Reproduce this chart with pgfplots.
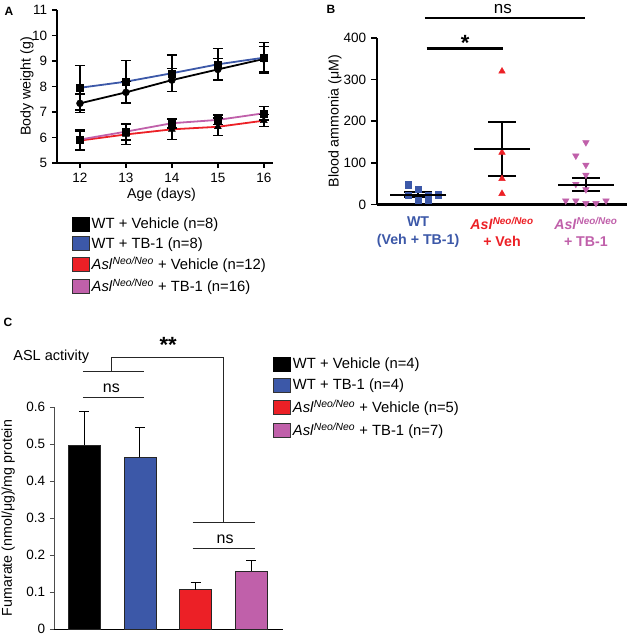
\documentclass[border=0pt]{standalone}
\usepackage{fontspec}
\setmainfont{Liberation Sans}
\usepackage{pgfplots}
\pgfplotsset{compat=1.18}
\definecolor{cblue}{RGB}{60,88,168}
\definecolor{cred}{RGB}{236,32,38}
\definecolor{cpink}{RGB}{192,96,170}
\newcommand{\asl}{\textit{Asl}\textsuperscript{\textit{Neo/Neo}}}
\newcommand{\aslb}{\textbf{\textit{Asl}}\textsuperscript{\textbf{\textit{Neo/Neo}}}}
\begin{document}
\fontsize{14}{16.8}\selectfont
\begin{tikzpicture}[x=1pt,y=1pt]
\useasboundingbox (0,0) rectangle (630,635);
\pgfplotsset{
  legend image code/.code={\draw[line width=0.6pt] (0pt,-7pt) rectangle (17pt,7pt);},
  every axis/.append style={
    /pgf/number format/assume math mode=true,
    ticklabel style={font=\fontsize{13.5}{15}\selectfont},
    label style={font=\fontsize{14.2}{17}\selectfont},
    legend style={draw=none, fill=none, font=\fontsize{14.8}{17.5}\selectfont, inner sep=0pt, row sep=3pt},
    legend cell align=left,
    scale only axis, clip=false, anchor=south west,
    axis x line*=bottom, axis y line*=left,
    tick align=outside,
  },
}
\node[font=\bfseries\fontsize{12}{14}\selectfont] at (9pt,624pt) {A};
\node[font=\bfseries\fontsize{12}{14}\selectfont] at (331pt,626pt) {B};
\node[font=\bfseries\fontsize{12}{14}\selectfont] at (8pt,313pt) {C};

% ---------------- Panel A ----------------
\begin{axis}[
  at={(57pt,472pt)}, width=216pt, height=153pt,
  xmin=11.5, xmax=16.2, ymin=5, ymax=11,
  axis line style={line width=1.6pt},
  xtick={12,13,14,15,16}, ytick={5,6,...,11},
  tick style={line width=1.4pt, black}, major tick length=5pt,
  xlabel={Age (days)}, ylabel={Body weight (g)},
  xlabel style={at={(axis description cs:0.484,-0.209)}, anchor=center},
  ylabel style={at={(axis description cs:-0.139,0.5)}, anchor=center},
  legend style={at={(axis description cs:0.069,-0.342)}, anchor=north west},
]
\addplot[black, line width=1.8pt, forget plot] coordinates {(12,7.34) (13,7.77) (14,8.25) (15,8.67) (16,9.08)};
\addplot[cblue, line width=1.8pt, forget plot] coordinates {(12,7.95) (13,8.19) (14,8.52) (15,8.87) (16,9.13)};
\addplot[cred, line width=1.8pt, forget plot] coordinates {(12,5.88) (13,6.12) (14,6.32) (15,6.42) (16,6.66)};
\addplot[cpink, line width=1.8pt, forget plot] coordinates {(12,5.92) (13,6.23) (14,6.56) (15,6.69) (16,6.95)};
\pgfplotsset{errA/.style={only marks, black, forget plot,
  error bars/.cd, y dir=both, y explicit, error bar style={line width=1.4pt, black},
  error mark options={rotate=90, line width=1.4pt, mark size=5pt, black}}}
\addplot[mark=*, mark size=3.5pt, errA] coordinates {(12,7.34) +- (0,0.36) (13,7.77) +- (0,0.43) (14,8.25) +- (0,0.45) (15,8.67) +- (0,0.42) (16,9.08) +- (0,0.5)};
\addplot[mark=square*, mark size=3.5pt, errA] coordinates {(12,7.95) +- (0,0.87) (13,8.19) +- (0,0.82) (14,8.52) +- (0,0.72) (15,8.87) +- (0,0.63) (16,9.13) +- (0,0.6)};
\addplot[mark=triangle*, mark size=4pt, errA] coordinates {(12,5.88) +- (0,0.38) (13,6.12) +- (0,0.4) (14,6.32) +- (0,0.39) (15,6.42) +- (0,0.34) (16,6.66) +- (0,0.24)};
\addplot[mark=square*, mark size=3.5pt, errA] coordinates {(12,5.92) +- (0,0.38) (13,6.23) +- (0,0.33) (14,6.56) +- (0,0.19) (15,6.69) +- (0,0.19) (16,6.95) +- (0,0.26)};
\addlegendimage{fill=black, draw=black}
\addlegendentry{WT + Vehicle (n=8)}
\addlegendimage{fill=cblue, draw=black!80}
\addlegendentry{WT + TB-1 (n=8)}
\addlegendimage{fill=cred, draw=black!80}
\addlegendentry{\asl{} + Vehicle (n=12)}
\addlegendimage{fill=cpink, draw=black!80}
\addlegendentry{\asl{} + TB-1 (n=16)}
\end{axis}

% ---------------- Panel B ----------------
\begin{axis}[
  at={(377pt,430.5pt)}, width=250pt, height=166.5pt,
  xmin=-0.49, xmax=2.49, ymin=0, ymax=400,
  axis line style={line width=2.3pt},
  ytick={0,100,...,400}, xtick={0,1,2},
  y tick style={line width=1.6pt, black}, major tick length=6pt,
  x tick style={draw=none},
  xticklabels={{{\color{cblue}WT}\\{\color{cblue}(Veh + TB-1)}},
                {{\color{cred}\aslb}\\{\color{cred}+ Veh}},
                {{\color{cpink}\aslb}\\{\color{cpink}+ TB-1}}},
  xticklabel style={align=center, font=\bfseries\fontsize{14.2}{17.5}\selectfont, yshift=-1.5pt},
  ylabel={Blood ammonia (μM)},
  ylabel style={at={(axis description cs:-0.168,0.5)}, anchor=center},
]
\addplot[only marks, mark=square*, mark size=3.2pt, cblue] coordinates {(-0.12,48) (0,37) (-0.12,22) (0,10) (0.12,10) (0.24,24) (0.12,22)};
\addplot[only marks, mark=triangle*, mark size=3.8pt, cred] coordinates {(1,320) (1,125) (1,62) (1,26)};
\addplot[only marks, mark=triangle*, mark size=3.8pt, mark options={rotate=180}, cpink] coordinates {(2,149) (1.88,117) (2,95) (2,71) (1.88,49) (2,36) (1.76,9) (1.88,9) (2,3) (2.12,3) (2.24,9)};
\addplot[only marks, mark=-, mark size=28pt, mark options={line width=2pt, black}, black,
  error bars/.cd, y dir=both, y explicit, error bar style={line width=2pt, black},
  error mark options={rotate=90, line width=2pt, mark size=14pt, black}]
  coordinates {(0,24) +- (0,7) (1,133.5) +- (0,65.5) (2,47.5) +- (0,15.5)};
\draw[line width=2.3pt] (axis cs:0.08,448) -- (axis cs:1.99,448);
\node[anchor=base, font=\fontsize{17}{20}\selectfont] at (axis cs:1.01,460) {ns};
\draw[line width=2.3pt] (axis cs:0.1,375) -- (axis cs:1.01,375);
\node[anchor=base, font=\bfseries\fontsize{22}{24}\selectfont] at (axis cs:0.56,370) {*};
\end{axis}

% ---------------- Panel C ----------------
\begin{axis}[
  at={(54pt,6pt)}, width=229pt, height=222pt,
  xmin=-0.54, xmax=3.57, ymin=0, ymax=0.6,
  x axis line style={line width=0.8pt, black},
  y axis line style={line width=0.7pt, black!70},
  xtick=\empty, ytick={0,0.1,...,0.6},
  yticklabel style={/pgf/number format/.cd, fixed, precision=1},
  y tick style={line width=0.7pt, black!70}, major tick length=4pt,
  ylabel={Fumarate (nmol/μg)/mg protein},
  ylabel style={at={(axis description cs:-0.2,0.5)}, anchor=center},
  legend style={at={(axis description cs:0.957,1.232)}, anchor=north west, row sep=4.2pt},
]
\pgfplotsset{barC/.style={ybar, bar width=32pt, bar shift=0pt, draw=black!85, line width=0.6pt, forget plot,
  error bars/.cd, y dir=plus, y explicit, error bar style={line width=0.9pt, black},
  error mark options={rotate=90, line width=0.9pt, mark size=5pt, black}}}
\addplot[fill=black, barC] coordinates {(0,0.497) +- (0,0.091)};
\addplot[fill=cblue, barC] coordinates {(1,0.464) +- (0,0.081)};
\addplot[fill=cred, barC] coordinates {(2,0.106) +- (0,0.021)};
\addplot[fill=cpink, barC] coordinates {(3,0.157) +- (0,0.028)};
\draw[line width=0.9pt, black!85] (axis cs:-0.02,0.695) -- (axis cs:1.07,0.695);
\draw[line width=0.9pt, black!85] (axis cs:-0.02,0.627) -- (axis cs:1.07,0.627);
\draw[line width=0.9pt, black!85] (axis cs:0.5,0.695) -- (axis cs:0.5,0.733) -- (axis cs:2.5,0.733) -- (axis cs:2.5,0.289);
\draw[line width=0.9pt, black!85] (axis cs:1.95,0.289) -- (axis cs:3.07,0.289);
\draw[line width=0.9pt, black!85] (axis cs:1.95,0.219) -- (axis cs:3.07,0.219);
\node[anchor=base, font=\fontsize{16}{19}\selectfont] at (axis cs:0.49,0.64) {ns};
\node[anchor=base, font=\fontsize{16}{19}\selectfont] at (axis cs:2.53,0.232) {ns};
\node[anchor=base, font=\bfseries\fontsize{22}{24}\selectfont] at (axis cs:1.51,0.747) {**};
\node[anchor=base west, font=\fontsize{14.5}{17}\selectfont] at (axis cs:-1.357,0.727) {ASL activity};
\addlegendimage{fill=black, draw=black}
\addlegendentry{WT + Vehicle (n=4)}
\addlegendimage{fill=cblue, draw=black!80}
\addlegendentry{WT + TB-1 (n=4)}
\addlegendimage{fill=cred, draw=black!80}
\addlegendentry{\asl{} + Vehicle (n=5)}
\addlegendimage{fill=cpink, draw=black!80}
\addlegendentry{\asl{} + TB-1 (n=7)}
\end{axis}
\end{tikzpicture}
\end{document}
